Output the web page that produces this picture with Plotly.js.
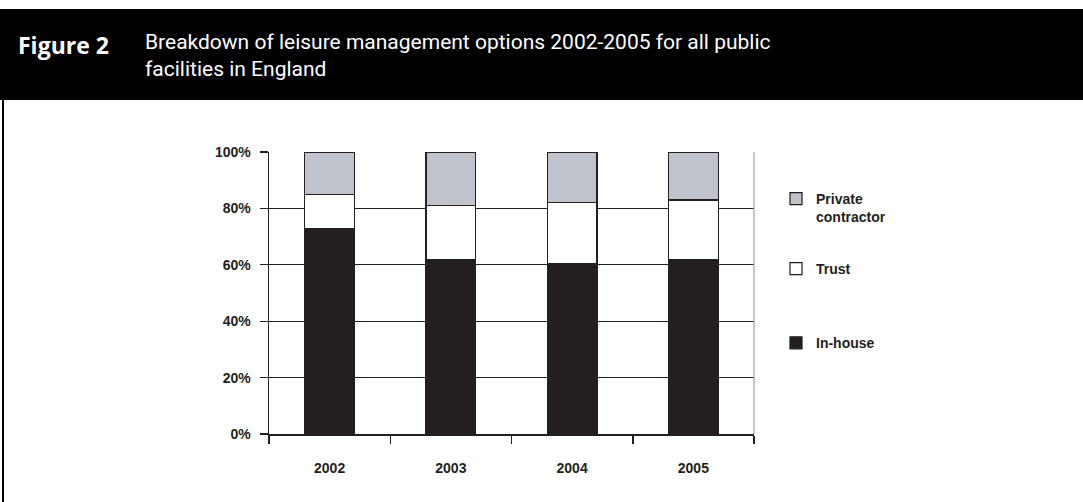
<!DOCTYPE html>
<html>
<head>
<meta charset="utf-8">
<script src="https://cdn.plot.ly/plotly-3.0.1.min.js"></script>
<style>
  html, body { margin: 0; padding: 0; background: #ffffff; }
  #chart { width: 1083px; height: 502px; }
</style>
</head>
<body>
<div id="chart"></div>
<script>
// ---- data ----
const years = ['2002', '2003', '2004', '2005'];
const inHouse = [73, 62, 60.5, 62];
const trust = [12, 19, 21.5, 21];
const privateContractor = [15, 19, 18, 17];
const seriesNames = ['In-house', 'Trust', 'Private<br>contractor'];
const yTickValues = [0, 20, 40, 60, 80, 100];

// ---- geometry helpers (pixels -> paper coordinates) ----
const W = 1083, H = 502;
const M = { l: 269, r: 329, t: 152, b: 68 };
const pw = W - M.l - M.r, ph = H - M.t - M.b;
const px = x => (x - M.l) / pw;
const py = y => (H - M.b - y) / ph;

const ink = '#231f20';
const lineStyle = { color: ink, width: 1.2 };

// drawn bottom -> top: In-house, Trust, Private contractor
const traces = [
  { name: seriesNames[0], x: years, y: inHouse, type: 'bar',
    marker: { color: ink, line: lineStyle }, width: 0.41,
    legend: 'legend2', legendgroup: 'c', legendrank: 2 },
  { name: seriesNames[1], x: years, y: trust, type: 'bar',
    marker: { color: '#ffffff', line: lineStyle }, width: 0.41,
    legend: 'legend2', legendgroup: 'b', legendrank: 1 },
  { name: seriesNames[2], x: years, y: privateContractor, type: 'bar',
    marker: { color: '#c0c3cb', line: lineStyle }, width: 0.41,
    legend: 'legend', legendgroup: 'a', legendrank: 1 }
];

const tickFont = { family: 'Liberation Sans, Arial, sans-serif', size: 14, color: ink, weight: 'bold' };
const legendFont = { family: 'Liberation Sans, Arial, sans-serif', size: 14, color: ink, weight: 'bold' };

const layout = {
  width: W, height: H,
  margin: M,
  paper_bgcolor: '#ffffff',
  plot_bgcolor: '#ffffff',
  barmode: 'stack',
  showlegend: true,
  legend: {
    xref: 'container', yref: 'container',
    x: 776 / W, y: 1 - 183 / H, xanchor: 'left', yanchor: 'top',
    traceorder: 'normal',
    valign: 'top',
    font: legendFont,
    bgcolor: 'rgba(0,0,0,0)'
  },
  legend2: {
    xref: 'container', yref: 'container',
    x: 776 / W, y: 1 - 253 / H, xanchor: 'left', yanchor: 'top',
    traceorder: 'grouped',
    tracegroupgap: 53,
    valign: 'top',
    font: legendFont,
    bgcolor: 'rgba(0,0,0,0)'
  },
  xaxis: {
    type: 'category',
    range: [-0.5, 3.5],
    showline: true, linecolor: ink, linewidth: 1.5,
    ticks: 'outside', ticklen: 8, tickcolor: ink, tickwidth: 1.5,
    tickson: 'boundaries',
    showgrid: false, zeroline: false,
    tickfont: tickFont,
    ticklabelstandoff: 21,
    fixedrange: true
  },
  yaxis: {
    range: [0, 100],
    tickvals: yTickValues,
    ticktext: yTickValues.map(v => v + '%'),
    showline: true, linecolor: ink, linewidth: 1.5,
    ticks: 'outside', ticklen: 8, tickcolor: ink, tickwidth: 1.2,
    showgrid: true, gridcolor: ink, gridwidth: 1.2,
    zeroline: false,
    tickfont: tickFont,
    ticklabelstandoff: 6,
    fixedrange: true
  },
  shapes: [
    // black header band
    { type: 'rect', xref: 'paper', yref: 'paper', layer: 'below',
      x0: px(0), x1: px(1083), y0: py(100), y1: py(9),
      fillcolor: '#000000', line: { width: 0 } },
    // left frame line
    { type: 'line', xref: 'paper', yref: 'paper',
      x0: px(3), x1: px(3), y0: py(100), y1: py(502),
      line: { color: '#000000', width: 2 } },
    // right border of plot area
    { type: 'line', xref: 'paper', yref: 'paper',
      x0: 1, x1: 1, y0: 0, y1: 1,
      line: { color: '#9aa1ad', width: 1.2 } }
  ],
  annotations: [
    { xref: 'paper', yref: 'paper', x: px(16), y: py(27), xanchor: 'left', yanchor: 'top',
      text: '<b>Figure 2</b>', showarrow: false, align: 'left',
      font: { family: 'Open Sans, Noto Sans, sans-serif', size: 23, color: '#ffffff' } },
    { xref: 'paper', yref: 'paper', x: px(143), y: py(28), xanchor: 'left', yanchor: 'top',
      text: 'Breakdown of leisure management options 2002-2005 for all public<br>facilities in England',
      showarrow: false, align: 'left',
      font: { family: 'Roboto, Open Sans, sans-serif', size: 21, color: '#ffffff' } }
  ]
};

Plotly.newPlot('chart', traces, layout, { displayModeBar: false, staticPlot: true });
</script>
</body>
</html>
